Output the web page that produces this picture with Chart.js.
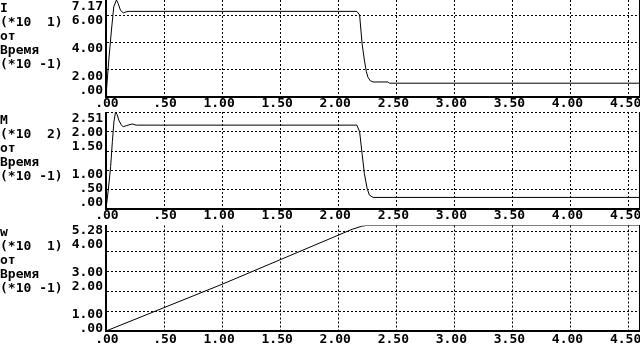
<!DOCTYPE html>
<html><head><meta charset="utf-8">
<script src="https://cdn.jsdelivr.net/npm/chart.js@4/dist/chart.umd.min.js"></script>
<style>
html,body{margin:0;padding:0;background:#fff;}
body{width:640px;height:350px;position:relative;overflow:hidden;}
canvas{position:absolute;left:0;}
.ttl{position:absolute;left:0;margin:0;font:bold 13px "DejaVu Sans Mono",monospace;line-height:14px;color:#000;white-space:pre;z-index:2;}
</style></head><body>
<canvas id="c1" width="640" height="112" style="top:0px"></canvas>
<canvas id="c2" width="640" height="113" style="top:112px"></canvas>
<canvas id="c3" width="640" height="125" style="top:225px"></canvas>
<pre class="ttl" id="t1" style="top:1px"></pre>
<pre class="ttl" id="t2" style="top:113px"></pre>
<pre class="ttl" id="t3" style="top:225px"></pre>
<script>
// ---- data ----
const timeTicks  = [0, 0.5, 1, 1.5, 2, 2.5, 3, 3.5, 4, 4.5];
const timeLabels = ['.00', '.50', '1.00', '1.50', '2.00', '2.50', '3.00', '3.50', '4.00', '4.50'];
const timeMax = 4.59;

const currentTitle  = ['I', '(*10  1)', 'от', 'Время', '(*10 -1)'];
const currentTicks  = [0, 2, 4, 6, 7.17];
const currentLabels = ['.00', '2.00', '4.00', '6.00', '7.17'];
const currentT = [0, 0.005, 0.024, 0.047, 0.067, 0.09, 0.105, 0.125, 0.15, 0.175, 0.2, 2.16, 2.184, 2.205, 2.225, 2.242, 2.256, 2.276, 2.3, 2.43, 2.44, 4.59];
const currentI = [0, 0.6, 2.73, 4.95, 6.67, 7.17, 6.9, 6.4, 6.22, 6.3, 6.33, 6.33, 6.06, 3.97, 2.73, 1.87, 1.46, 1.2, 1.11, 1.11, 1.02, 1.02];

const torqueTitle  = ['M', '(*10  2)', 'от', 'Время', '(*10 -1)'];
const torqueTicks  = [0, 0.5, 1, 1.5, 2, 2.5, 2.51];
const torqueLabels = ['.00', '.50', '1.00', '1.50', '2.00', '', '2.51'];
const torqueT = [0, 0.02, 0.04, 0.055, 0.068, 0.082, 0.095, 0.11, 0.13, 0.148, 0.18, 0.225, 0.26, 2.16, 2.184, 2.205, 2.225, 2.248, 2.268, 2.3, 4.59];
const torqueM = [0, 0.5, 1.1, 1.75, 2.25, 2.51, 2.45, 2.3, 2.18, 2.13, 2.16, 2.2, 2.17, 2.17, 2.0, 1.44, 0.92, 0.54, 0.36, 0.3, 0.3];

const speedTitle  = ['w', '(*10  1)', 'от', 'Время', '(*10 -1)'];
const speedTicks  = [0, 1, 2, 3, 4, 5, 5.28];
const speedLabels = ['.00', '1.00', '2.00', '3.00', '4.00', '', '5.28'];
const speedT = [0, 1.0, 2.12, 2.2, 2.24, 4.59];
const speedW = [0, 2.34, 5.09, 5.24, 5.28, 5.28];

// ---- rendering ----
const FAM = '"DejaVu Sans Mono", monospace';
const ROW = 14;

document.getElementById('t1').textContent = currentTitle.join('\n');
document.getElementById('t2').textContent = torqueTitle.join('\n');
document.getElementById('t3').textContent = speedTitle.join('\n');

function onStep(v) { return Math.abs(v * 2 - Math.round(v * 2)) < 1e-9; }

function makePanel(id, topAbs, xs, ys, yTicks, yLabels, xAxisH, xPad, padTop) {
  // labels of the original sit on a text grid of 14px rows
  const rowFont = ctx => {
    let lh = 14;
    const s = ctx.scale;
    if (ctx.tick && s && isFinite(s.top) && s.bottom > s.top) {
      const p = s.getPixelForValue(ctx.tick.value);
      if (isFinite(p)) {
        const abs = topAbs + p;
        const row = Math.floor((abs + 0.5) / ROW);
        const d = row * ROW + 7 - abs;
        lh = Math.max(0.01, 2 * (d + 7));
      }
    }
    return { family: FAM, size: 13, weight: 'bold', lineHeight: lh / 13 };
  };
  return new Chart(document.getElementById(id), {
    type: 'line',
    data: {
      datasets: [{
        data: xs.map((x, i) => ({ x: x, y: ys[i] })),
        borderColor: '#000', borderWidth: 1, pointRadius: 0, fill: false, tension: 0,
        yAxisID: 'y', xAxisID: 'x'
      }]
    },
    options: {
      responsive: false, animation: false, devicePixelRatio: 1, events: [],
      layout: { padding: { left: 0, right: 0, top: padTop, bottom: 0 } },
      plugins: { legend: { display: false }, tooltip: { enabled: false } },
      scales: {
        x: {
          type: 'linear', min: 0, max: timeMax, position: 'bottom',
          afterBuildTicks: s => { s.ticks = timeTicks.map(v => ({ value: v })); },
          ticks: {
            autoSkip: false, maxRotation: 0, minRotation: 0, padding: xPad, labelOffset: -3,
            color: '#000', font: { family: FAM, size: 13, weight: 'bold', lineHeight: 14 / 13 },
            callback: (v, i) => timeLabels[i].padStart(4)
          },
          grid: { color: '#000', lineWidth: 1, drawTicks: false },
          border: { display: true, color: '#000', width: 2, dash: [2, 2] },
          afterFit: s => { s.height = xAxisH; s.paddingLeft = 0; s.paddingRight = 0; }
        },
        y: {
          type: 'linear', min: 0, max: yTicks[yTicks.length - 1], position: 'left',
          afterBuildTicks: s => { s.ticks = yTicks.map(v => ({ value: v })); },
          ticks: {
            autoSkip: false, padding: 3, labelOffset: -7, color: '#000',
            font: rowFont,
            callback: (v, i) => ['', yLabels[i].padStart(4)]
          },
          grid: {
            color: ctx => (ctx.tick && onStep(ctx.tick.value)) ? '#000' : 'rgba(0,0,0,0)',
            lineWidth: 1, drawTicks: false
          },
          border: { display: true, color: '#000', width: 2, dash: [2, 2] },
          afterFit: s => { s.width = 106; s.paddingTop = 0; s.paddingBottom = 0; }
        },
        yR: {
          type: 'linear', position: 'right',
          ticks: { display: false },
          grid: { display: true, drawOnChartArea: false, drawTicks: false, color: 'rgba(0,0,0,0)' },
          border: { display: true, color: '#000', width: 1 },
          afterFit: s => { s.width = 1; s.paddingTop = 0; s.paddingBottom = 0; }
        }
      }
    }
  });
}

makePanel('c1', 0,   currentT, currentI, currentTicks, currentLabels, 15, 0, 0);
makePanel('c2', 112, torqueT,  torqueM,  torqueTicks,  torqueLabels,  16, 0, 0);
makePanel('c3', 225, speedT,   speedW,   speedTicks,   speedLabels,   19, 2, 0.5);
</script>
</body></html>
